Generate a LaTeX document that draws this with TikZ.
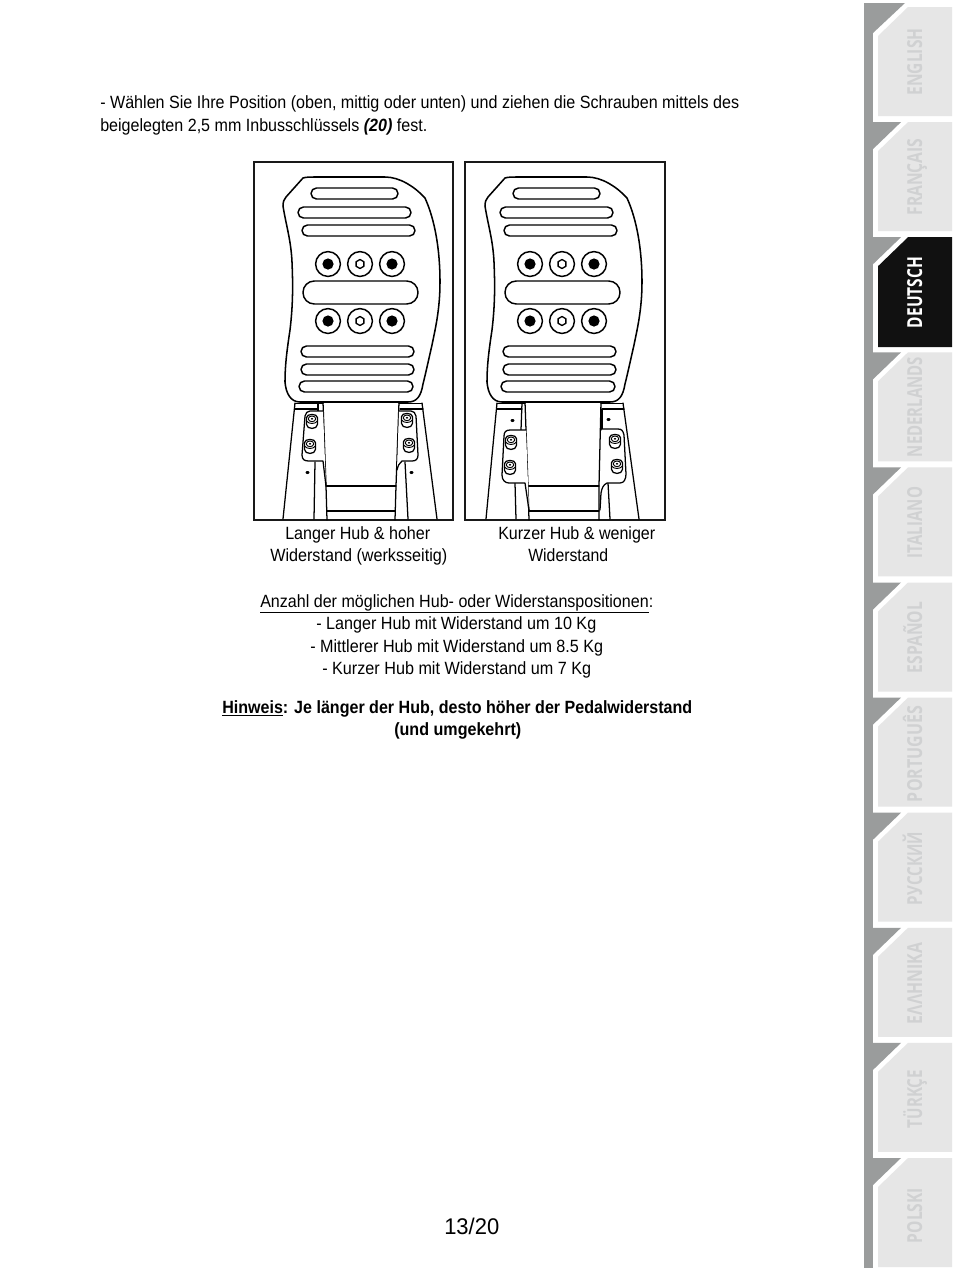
\documentclass[tikz,border=0pt]{standalone}
\usepackage{fontspec}
\usepackage{graphicx}
\setmainfont{Liberation Sans}
\newfontfamily\tabfont{Open Sans}
\newdimen\pxu \pxu=.75pt
\newcommand{\fitw}[2]{\resizebox{#1\pxu}{\height}{#2}}
\definecolor{stripgray}{HTML}{9A9C9C}
\definecolor{tabfill}{HTML}{E6E6E6}
\definecolor{tabtext}{HTML}{D0D1D2}
\definecolor{tabblack}{HTML}{111111}
\tikzset{
  txt/.style={anchor=base west,inner sep=0pt,font=\fontsize{13.3pt}{15pt}\selectfont,text=black},
  tablabel/.style={anchor=base,rotate=90,inner sep=0pt,font=\tabfont\bfseries\fontsize{15.5pt}{18pt}\selectfont},
  frameb/.style={draw=black!90,line width=2pt,fill=white},
  ln/.style={draw=black,line width=.95pt,line join=round,line cap=round},
  thin ln/.style={draw=black,line width=.7pt,line join=round,line cap=round},
  slot/.style={draw=black,line width=1.1pt,rounded corners=4.1pt}
}
\newcommand{\slotbox}[4]{\draw[slot] (#1,#2) rectangle (#3,#4);}
\newcommand{\boltat}[2]{%
  \begin{scope}[shift={(#1,#2)},scale=1.1]
    \draw[ln,fill=white] (-5,-3) .. controls (-5,-7) and (5,-7) .. (5,-3) -- (5,3) .. controls (5,8) and (-5,8) .. (-5,3) -- cycle;
    \draw[thin ln] (0,-2) circle[x radius=3.4,y radius=2.6];
    \fill[black] (0,-2) circle[x radius=1.2,y radius=.9];
    \draw[thin ln] (-5,0) .. controls (-3,3) and (3,3) .. (5,0);
  \end{scope}}
\newcommand{\holes}[1]{%
  \foreach \hx in {328,392}{
    \draw[ln,line width=1.1pt] (\hx,#1) circle[radius=12.4];
    \fill[black] (\hx,#1) circle[radius=5.6];}
  \draw[ln,line width=1.1pt] (360,#1) circle[radius=12.4];
  \draw[ln,line width=1pt] (360,#1-4.5) -- ++(3.9,2.25) -- ++(0,4.5) -- ++(-3.9,2.25) -- ++(-3.9,-2.25) -- ++(0,-4.5) -- cycle;}
\newcommand{\pedal}{%
  \draw[ln,line width=1.15pt,fill=white] (303,178) .. controls (306,177) and (310,177) .. (316,177)
    -- (385,177) .. controls (400,177) and (415,187) .. (425,198)
    .. controls (435,220) and (440,250) .. (440,282)
    .. controls (440,310) and (435,330) .. (432,345)
    .. controls (429,358) and (426,372) .. (423,384)
    .. controls (421,396) and (417,402) .. (408,402)
    -- (300,402) .. controls (291,402) and (286,394) .. (285,382)
    .. controls (285,365) and (287,350) .. (290,330)
    .. controls (293,305) and (293,285) .. (292,262)
    .. controls (291,240) and (286,225) .. (283,206)
    .. controls (283,202) and (284,199) .. (286,197) -- cycle;
  \slotbox{311}{188}{398}{199}
  \slotbox{298}{207}{411}{218}
  \slotbox{302}{225}{415}{236}
  \draw[slot,rounded corners=8.5pt] (303,281) rectangle (418,304);
  \slotbox{301}{346}{414}{357}
  \slotbox{301}{364}{414}{375}
  \slotbox{299}{381}{413}{392}
  \holes{264}
  \holes{321}}
\begin{document}
\begin{tikzpicture}[x=.75pt,y=-.75pt]
\useasboundingbox (0,0) rectangle (954,1272);
\fill[white] (0,0) rectangle (954,1272);

% --- side tabs
\fill[stripgray] (864,3) rectangle (873,1268);
\fill[stripgray] (873,3) -- (905,3) -- (873,33) -- cycle;
\foreach \i in {0,...,10}{
  \pgfmathsetmacro{\tp}{7+115.1*\i}
  \ifnum\i>0
    \fill[stripgray] (873,\tp) -- (901,\tp) -- (873,\tp+27) -- cycle;
  \fi
  \ifnum\i=2
    \fill[tabblack] (908,\tp) -- (952,\tp) -- (952,\tp+110) -- (878,\tp+110) -- (878,\tp+29) -- cycle;
  \else
    \fill[tabfill] (908,\tp) -- (952,\tp) -- (952,\tp+109) -- (878,\tp+109) -- (878,\tp+29) -- cycle;
  \fi
}
\node[tablabel,text=tabtext] (en) at (922,62) {\fitw{67}{ENGLISH}};
\node[tablabel,text=tabtext] (fr) at (922,177) {\fitw{77}{FRANÇAIS}};
\node[tablabel,text=white] (de) at (922,292.5) {\fitw{71}{DEUTSCH}};
\node[tablabel,text=tabtext] (nl) at (922,407) {\fitw{100}{NEDERLANDS}};
\node[tablabel,text=tabtext] (it) at (922,522.5) {\fitw{71}{ITALIANO}};
\node[tablabel,text=tabtext] (es) at (922,637.5) {\fitw{71}{ESPAÑOL}};
\node[tablabel,text=tabtext] (pt) at (922,754) {\fitw{96}{PORTUGUÊS}};
\node[tablabel,text=tabtext] (ru) at (922,868.5) {\fitw{73}{РУССКИЙ}};
\node[tablabel,text=tabtext] (el) at (922,983.5) {\fitw{81}{ΕΛΛΗΝΙΚΑ}};
\node[tablabel,text=tabtext] (tr) at (922,1099) {\fitw{58}{TÜRKÇE}};
\node[tablabel,text=tabtext] (pl) at (922,1215.5) {\fitw{55}{POLSKI}};

% --- frames
\draw[frameb] (254,162) rectangle (453,520);
\draw[frameb] (465,162) rectangle (665,520);

% --- first mechanism (long travel)
\begin{scope}
  \clip (254,162) rectangle (453,520);
  \draw[ln] (295,403) -- (283,519);
  \draw[ln] (422,403) -- (437,519);
  \draw[ln] (295,403.5) -- (323,403.5);
  \draw[ln] (399,403.5) -- (422,403.5);
  \draw[ln] (295,409) -- (318,409);
  \draw[ln] (400,409) -- (423,409);
  \draw[ln] (318,403) -- (318,411);
  \draw[ln] (323,402) -- (326,486) -- (327,520);
  \draw[ln] (399,402) -- (396,486) -- (395,520);
  \draw[ln] (326,486) -- (396,486);
  \draw[ln] (327,511) -- (395,511);
  \draw[ln] (315,462) -- (314,519);
  \draw[ln] (405,462) -- (408,519);
  \draw[ln,fill=white] (323,411) -- (310,411) .. controls (307,411) and (306,413) .. (305,416)
     -- (302,455) .. controls (302,460) and (305,461) .. (309,461) -- (323,461) -- (326,486);
  \draw[ln,fill=white] (399,411) -- (411,411) .. controls (414,411) and (415,413) .. (416,416)
     -- (418,455) .. controls (418,459) and (416,461) .. (412,461) -- (402,461) .. controls (399,463) and (398,466) .. (397,470);
  \fill[black] (307.5,472.5) circle[x radius=2,y radius=1.5];
  \fill[black] (411.5,472.5) circle[x radius=2,y radius=1.5];
  \boltat{312}{421}
  \boltat{310}{446}
  \boltat{407}{420}
  \boltat{409}{445}
\end{scope}

% --- second mechanism (short travel)
\begin{scope}
  \clip (465,162) rectangle (665,520);
  \draw[ln] (497,403) -- (486,519);
  \draw[ln] (623,403) -- (639,519);
  \draw[ln] (497,403.5) -- (525,403.5);
  \draw[ln] (601,403.5) -- (623,403.5);
  \draw[ln] (497,409) -- (522,409);
  \draw[ln] (602,409) -- (624,409);
  \draw[ln] (522,403) -- (521,430);
  \draw[ln] (602,409) -- (602,430);
  \draw[ln] (525,402) -- (528,486) -- (529,520);
  \draw[ln] (601,402) -- (599,486) -- (599,520);
  \draw[ln] (528,486) -- (599,486);
  \draw[ln] (529,511) -- (599,511);
  \draw[ln] (515,483) -- (516,519);
  \draw[ln] (608,483) -- (610,519);
  \draw[ln,fill=white] (526,430) -- (510,430) .. controls (506,430) and (504,432) .. (504,436)
     -- (502,475) .. controls (502,480) and (505,483) .. (509,483) -- (525,483) -- (529,510);
  \draw[ln,fill=white] (602,429) -- (618,429) .. controls (622,429) and (623,431) .. (624,435)
     -- (626,474) .. controls (626,479) and (624,483) .. (620,483) -- (607,483) .. controls (603,485) and (602,488) .. (601,493) -- (600,510);
  \fill[black] (512.5,420.5) circle[x radius=2,y radius=1.5];
  \fill[black] (608.5,419.5) circle[x radius=2,y radius=1.5];
  \boltat{511}{442}
  \boltat{510}{467}
  \boltat{615}{441}
  \boltat{617}{466}
\end{scope}

% --- pedals
\pedal
\begin{scope}[shift={(202,0)}]
\pedal
\end{scope}

% --- text
\node[txt] (l1) at (100,108.5) {\fitw{639}{- Wählen Sie Ihre Position (oben, mittig oder unten) und ziehen die Schrauben mittels des}};
\node[txt] (l2) at (100,131) {\fitw{327}{beigelegten 2,5 mm Inbusschlüssels {\bfseries\itshape (20)} fest.}};
\node[txt] (c1) at (285,539) {\fitw{145}{Langer Hub \& hoher}};
\node[txt] (c2) at (270,561.5) {\fitw{177}{Widerstand (werksseitig)}};
\node[txt] (c3) at (498,539) {\fitw{157}{Kurzer Hub \& weniger}};
\node[txt] (c4) at (528,561.5) {\fitw{80}{Widerstand}};
\node[txt] (a1) at (260,607) {\fitw{393}{\underline{Anzahl der möglichen Hub- oder Widerstanspositionen}:}};
\node[txt] (a2) at (316,629) {\fitw{280}{- Langer Hub mit Widerstand um 10 Kg}};
\node[txt] (a3) at (310,652) {\fitw{293}{- Mittlerer Hub mit Widerstand um 8.5 Kg}};
\node[txt] (a4) at (322,674) {\fitw{269}{- Kurzer Hub mit Widerstand um 7 Kg}};
\node[txt,font=\bfseries\fontsize{13.3pt}{15pt}\selectfont] (h1) at (222,713) {\fitw{470}{\underline{Hinweis}: Je länger der Hub, desto höher der Pedalwiderstand}};
\node[txt,font=\bfseries\fontsize{13.3pt}{15pt}\selectfont] (h2) at (394,735.5) {\fitw{127}{(und umgekehrt)}};
\node[txt,font=\fontsize{17pt}{19pt}\selectfont] (pg) at (444,1234) {\fitw{55}{13/20}};
\end{tikzpicture}
\end{document}
